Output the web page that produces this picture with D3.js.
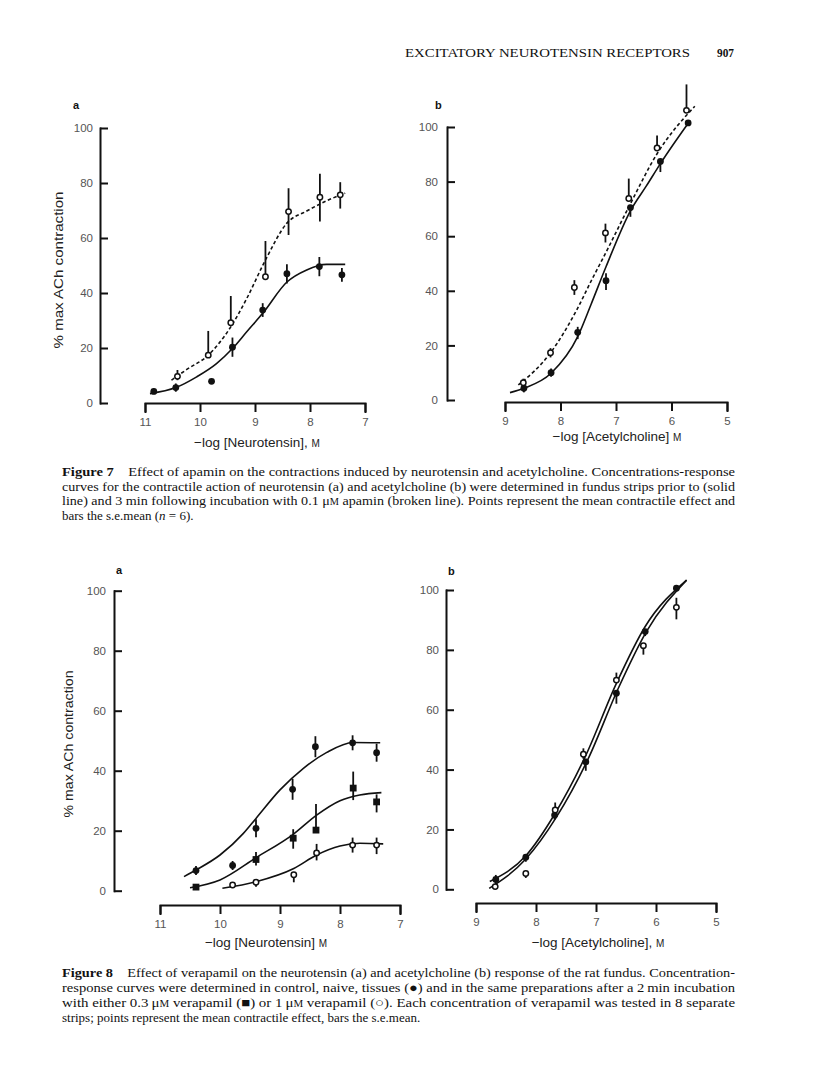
<!DOCTYPE html>
<html><head><meta charset="utf-8">
<script src="https://cdn.jsdelivr.net/npm/d3@7"></script>
<style>body{margin:0;background:#fff}svg{display:block}</style>
</head><body>
<svg id="c" width="816" height="1091"></svg>
<script>
// ================= DATA =================
const yTicks = [0, 20, 40, 60, 80, 100];
const neuroTicks = [11, 10, 9, 8, 7];
const achTicks = [9, 8, 7, 6, 5];

// ---- Figure 7a : neurotensin, control (solid, filled) vs apamin (broken, open)
const f7aCtrlX  = [10.84, 10.44, 9.79, 9.41, 8.86, 8.42, 7.83, 7.42];
const f7aCtrlY  = [4.2, 5.6, 7.9, 20.3, 33.8, 47.0, 49.6, 46.6];
const f7aCtrlUp = [1, 1.5, 0.5, 3.5, 2.5, 3.5, 3.5, 2.5];
const f7aCtrlDn = [1, 1.5, 0.5, 3.5, 2.5, 3.5, 3.5, 2.5];
const f7aApaX   = [10.41, 9.85, 9.44, 8.81, 8.39, 7.82, 7.45];
const f7aApaY   = [9.7, 17.4, 29.2, 45.9, 69.6, 74.8, 75.7];
const f7aApaUp  = [2.3, 8.8, 9.7, 13.0, 8.5, 8.6, 4.6];
const f7aApaDn  = [1.4, 0, 0, 0, 8.5, 8.8, 5.0];
const f7aCurveCtrlX = [10.91, 10.44, 10.06, 9.70, 9.41, 9.15, 8.86, 8.42, 8.06, 7.70, 7.36];
const f7aCurveCtrlY = [3.4, 5.6, 9.5, 14.3, 19.8, 25.9, 32.6, 44.0, 48.4, 50.4, 50.4];
const f7aCurveApaX  = [10.52, 10.24, 9.85, 9.44, 9.15, 8.81, 8.42, 8.06, 7.70, 7.36];
const f7aCurveApaY  = [8.3, 12.2, 17.4, 27.7, 38.0, 52.0, 65.4, 69.8, 73.5, 76.3];

// ---- Figure 7b : acetylcholine
const f7bCtrlX  = [8.66, 8.17, 7.69, 7.18, 6.74, 6.20, 5.70];
const f7bCtrlY  = [4.3, 10.0, 24.8, 43.7, 70.5, 87.4, 101.5];
const f7bCtrlUp = [1, 1.5, 2, 2.7, 1, 0, 0];
const f7bCtrlDn = [1.5, 1.5, 2.5, 3.4, 3.4, 3.9, 0];
const f7bApaX   = [8.67, 8.18, 7.75, 7.19, 6.77, 6.26, 5.73];
const f7bApaY   = [6.3, 17.3, 41.2, 61.2, 73.8, 92.3, 106.1];
const f7bApaUp  = [1.5, 1.7, 2.7, 3.4, 7.3, 4.6, 9.5];
const f7bApaDn  = [1, 1.7, 2.7, 3.5, 0, 0, 0];
const f7bCurveCtrlX = [8.91, 8.66, 8.17, 7.69, 7.45, 7.18, 6.74, 6.45, 6.20, 5.67];
const f7bCurveCtrlY = [2.7, 4.3, 9.8, 23.2, 35.0, 48.8, 69.3, 78.5, 86.6, 102.2];
const f7bCurveApaX  = [8.76, 8.18, 7.71, 7.45, 7.19, 6.77, 6.26, 5.58];
const f7bCurveApaY  = [5.5, 17.3, 32.9, 43.5, 53.7, 70.7, 90.2, 107.6];

// ---- Figure 8a : neurotensin, control (●), 0.3 µM verapamil (■), 1 µM verapamil (○)
const f8aCtrlX  = [10.40, 9.79, 9.40, 8.79, 8.41, 7.79, 7.39];
const f8aCtrlY  = [6.7, 8.4, 20.8, 33.8, 48.0, 49.3, 46.0];
const f8aCtrlUp = [1.5, 1.5, 3, 3.5, 3.5, 2.5, 3];
const f8aCtrlDn = [1.5, 1.5, 3, 3.5, 3.5, 2.5, 3];
const f8aV03X   = [10.40, 9.40, 8.78, 8.40, 7.78, 7.39];
const f8aV03Y   = [1.2, 10.4, 17.5, 20.2, 34.2, 29.6];
const f8aV03Up  = [0.8, 2.5, 3, 8.7, 5.5, 2.5];
const f8aV03Dn  = [0.8, 2, 3.5, 0, 4, 3.5];
const f8aV1X    = [9.79, 9.40, 8.77, 8.39, 7.79, 7.39];
const f8aV1Y    = [1.9, 2.8, 5.3, 12.6, 15.2, 15.2];
const f8aV1Up   = [0.8, 1, 0.5, 3, 2.5, 2.5];
const f8aV1Dn   = [0.5, 1.5, 2.5, 2.5, 2.5, 3];
const f8aCurveCtrlX = [10.60, 10.40, 10.0, 9.61, 9.40, 9.0, 8.61, 8.22, 7.78, 7.33];
const f8aCurveCtrlY = [4.7, 6.9, 11.9, 19.1, 24.1, 33.6, 40.8, 46.1, 49.4, 49.3];
const f8aCurveV03X  = [10.50, 10.0, 9.40, 8.78, 8.39, 8.0, 7.67, 7.31];
const f8aCurveV03Y  = [1.0, 3.6, 11.0, 18.8, 25.2, 30.0, 31.9, 32.7];
const f8aCurveV1X   = [9.96, 9.40, 8.77, 8.39, 8.0, 7.67, 7.28];
const f8aCurveV1Y   = [0.8, 3.0, 7.4, 11.9, 14.9, 15.8, 15.6];

// ---- Figure 8b : acetylcholine
const f8bCtrlX  = [8.67, 8.17, 7.69, 7.17, 6.66, 6.18, 5.66];
const f8bCtrlY  = [3.3, 10.7, 24.8, 42.6, 65.5, 86.1, 100.6];
const f8bCtrlUp = [1.5, 1, 1, 1, 0, 0, 0];
const f8bCtrlDn = [1.5, 1.5, 1.5, 3, 3.5, 1.5, 0];
const f8bV1X    = [8.68, 8.17, 7.68, 7.21, 6.66, 6.21, 5.66];
const f8bV1Y    = [0.9, 5.3, 26.5, 45.1, 69.9, 81.4, 94.2];
const f8bV1Up   = [0.5, 0.8, 2.5, 2, 2.5, 0, 3.2];
const f8bV1Dn   = [0.5, 1.5, 1.5, 1.5, 0, 3, 4];
const f8bCurveAX = [8.77, 8.17, 7.68, 7.18, 6.66, 6.18, 5.49];
const f8bCurveAY = [2.6, 11.2, 25.4, 44.3, 68.8, 87.8, 103.3];
const f8bCurveBX = [8.78, 8.17, 7.66, 7.14, 6.63, 6.16, 5.49];
const f8bCurveBY = [0.3, 10.1, 24.1, 43.2, 67.1, 86.1, 103.3];

// ---- texts
const headerTitle = "EXCITATORY NEUROTENSIN RECEPTORS";
const headerPage = "907";
const yLabel = "% max ACh contraction";
const cap7 = [
  [["Figure 7", "b"], ["\u2003Effect of apamin on the contractions induced by neurotensin and acetylcholine. Concentrations-response", ""]],
  [["curves for the contractile action of neurotensin (a) and acetylcholine (b) were determined in fundus strips prior to (solid", ""]],
  [["line) and 3 min following incubation with 0.1 \u03bc", ""], ["M", "sc"], [" apamin (broken line). Points represent the mean contractile effect and", ""]],
  [["bars the s.e.mean (", ""], ["n", "i"], [" = 6).", ""]]
];
const cap8 = [
  [["Figure 8", "b"], ["\u2003Effect of verapamil on the neurotensin (a) and acetylcholine (b) response of the rat fundus. Concentration-", ""]],
  [["response curves were determined in control, naive, tissues (\u25cf) and in the same preparations after a 2\u2009min incubation", ""]],
  [["with either 0.3\u2009\u03bc", ""], ["M", "sc"], [" verapamil (\u25a0) or 1\u2009\u03bc", ""], ["M", "sc"], [" verapamil (\u25cb). Each concentration of verapamil was tested in 8 separate", ""]],
  [["strips; points represent the mean contractile effect, bars the s.e.mean.", ""]]
];

// ================= DRAWING =================
const svg = d3.select("#c");
svg.append("rect").attr("width", 816).attr("height", 1091).attr("fill", "#fff");
const SANS = "'Liberation Sans', Arial, Helvetica, sans-serif";
const SERIF = "'Liberation Serif', 'Times New Roman', serif";

function zip(xs, ys) { return xs.map((v, i) => [v, ys[i]]); }

function drawPanel(p) {
  const x = d3.scaleLinear().domain(p.xDomain).range(p.xRange);
  const y = d3.scaleLinear().domain([0, 100]).range(p.yRange);
  const g = svg.append("g");

  const gx = g.append("g").attr("transform", `translate(0,${p.xAxisY})`)
    .call(d3.axisBottom(x).tickValues(p.xTicks).tickSize(9).tickSizeOuter(9).tickPadding(6).tickFormat(d3.format("d")));
  const gy = g.append("g").attr("transform", `translate(${p.yAxisX},0)`)
    .call(d3.axisLeft(y).tickValues(yTicks).tickSize(-8).tickSizeOuter(0).tickPadding(p.yPad).tickFormat(d3.format("d")));
  [gx, gy].forEach(a => {
    a.select(".domain").attr("stroke", "#111").attr("stroke-width", 2).attr("stroke-linecap", "square").attr("fill", "none");
    a.selectAll(".tick line").attr("stroke", "#111").attr("stroke-width", 2);
    a.selectAll(".tick text").attr("fill", "#555").style("font-family", SANS).style("font-size", "11.5px");
  });

  const line = d3.line().x(d => x(d[0])).y(d => y(d[1])).curve(d3.curveMonotoneX);
  p.curves.forEach(c => {
    g.append("path").attr("d", line(zip(c.xs, c.ys).sort((a, b) => x(a[0]) - x(b[0]))))
      .attr("fill", "none").attr("stroke", "#111").attr("stroke-width", 1.6)
      .attr("stroke-dasharray", c.dashed ? "3.5,2.5" : null);
  });

  p.series.forEach(s => {
    const pts = s.xs.map((v, i) => ({ x: v, y: s.ys[i], up: s.up[i], dn: s.dn[i] }));
    g.append("g").selectAll("line").data(pts).join("line")
      .attr("x1", d => x(d.x)).attr("x2", d => x(d.x))
      .attr("y1", d => y(d.y + d.up)).attr("y2", d => y(d.y - d.dn))
      .attr("stroke", "#111").attr("stroke-width", 1.8);
    const m = g.append("g");
    if (s.shape === "filled") {
      m.selectAll("circle").data(pts).join("circle")
        .attr("cx", d => x(d.x)).attr("cy", d => y(d.y)).attr("r", 3.4).attr("fill", "#111");
    } else if (s.shape === "open") {
      m.selectAll("circle").data(pts).join("circle")
        .attr("cx", d => x(d.x)).attr("cy", d => y(d.y)).attr("r", 2.7)
        .attr("fill", "#fff").attr("stroke", "#111").attr("stroke-width", 1.5);
    } else {
      m.selectAll("rect").data(pts).join("rect")
        .attr("x", d => x(d.x) - 3.4).attr("y", d => y(d.y) - 3.4).attr("width", 6.8).attr("height", 6.8).attr("fill", "#111");
    }
  });

  g.append("text").attr("x", p.letterPos[0]).attr("y", p.letterPos[1]).text(p.letter)
    .style("font-family", SANS).style("font-weight", "bold").style("font-size", "11px").attr("fill", "#111");

  const t = g.append("text").attr("x", p.xTitlePos[0]).attr("y", p.xTitlePos[1]).attr("text-anchor", "middle")
    .style("font-family", SANS).style("font-size", "13.5px").attr("fill", "#222");
  t.append("tspan").text(p.xTitle);
  t.append("tspan").text("M").style("font-size", "10px");

  if (p.yTitlePos) {
    svg.append("text").attr("transform", `translate(${p.yTitlePos[0]},${p.yTitlePos[1]}) rotate(-90)`)
      .attr("text-anchor", "middle").attr("dominant-baseline", "central")
      .style("font-family", SANS).style("font-size", "13px").attr("fill", "#222")
      .attr("textLength", p.yTitleLen).attr("lengthAdjust", "spacingAndGlyphs")
      .text(yLabel);
  }
}

const panels = [
  { xDomain: [11, 7], xRange: [145, 365], yRange: [403, 128], xAxisY: 403, yAxisX: 100, yPad: 7, xTicks: neuroTicks,
    letter: "a", letterPos: [73, 109], xTitle: "\u2212log [Neurotensin], ", xTitlePos: [257, 447],
    yTitlePos: [58, 270], yTitleLen: 157,
    curves: [{ xs: f7aCurveCtrlX, ys: f7aCurveCtrlY, dashed: false }, { xs: f7aCurveApaX, ys: f7aCurveApaY, dashed: true }],
    series: [{ xs: f7aCtrlX, ys: f7aCtrlY, up: f7aCtrlUp, dn: f7aCtrlDn, shape: "filled" },
             { xs: f7aApaX, ys: f7aApaY, up: f7aApaUp, dn: f7aApaDn, shape: "open" }] },
  { xDomain: [9, 5], xRange: [505, 727], yRange: [400, 127], xAxisY: 402, yAxisX: 447, yPad: 9, xTicks: achTicks,
    letter: "b", letterPos: [435, 109], xTitle: "\u2212log [Acetylcholine] ", xTitlePos: [617, 441],
    curves: [{ xs: f7bCurveCtrlX, ys: f7bCurveCtrlY, dashed: false }, { xs: f7bCurveApaX, ys: f7bCurveApaY, dashed: true }],
    series: [{ xs: f7bCtrlX, ys: f7bCtrlY, up: f7bCtrlUp, dn: f7bCtrlDn, shape: "filled" },
             { xs: f7bApaX, ys: f7bApaY, up: f7bApaUp, dn: f7bApaDn, shape: "open" }] },
  { xDomain: [11, 7], xRange: [160, 400], yRange: [890.7, 590.7], xAxisY: 905, yAxisX: 114, yPad: 8, xTicks: neuroTicks,
    letter: "a", letterPos: [116, 574], xTitle: "\u2212log [Neurotensin] ", xTitlePos: [266, 947],
    yTitlePos: [68, 744], yTitleLen: 147,
    curves: [{ xs: f8aCurveCtrlX, ys: f8aCurveCtrlY }, { xs: f8aCurveV03X, ys: f8aCurveV03Y }, { xs: f8aCurveV1X, ys: f8aCurveV1Y }],
    series: [{ xs: f8aCtrlX, ys: f8aCtrlY, up: f8aCtrlUp, dn: f8aCtrlDn, shape: "filled" },
             { xs: f8aV03X, ys: f8aV03Y, up: f8aV03Up, dn: f8aV03Dn, shape: "square" },
             { xs: f8aV1X, ys: f8aV1Y, up: f8aV1Up, dn: f8aV1Dn, shape: "open" }] },
  { xDomain: [9, 5], xRange: [476, 716], yRange: [889.3, 590], xAxisY: 903, yAxisX: 446, yPad: 7, xTicks: achTicks,
    letter: "b", letterPos: [448, 575], xTitle: "\u2212log [Acetylcholine], ", xTitlePos: [598, 947],
    curves: [{ xs: f8bCurveAX, ys: f8bCurveAY }, { xs: f8bCurveBX, ys: f8bCurveBY }],
    series: [{ xs: f8bCtrlX, ys: f8bCtrlY, up: f8bCtrlUp, dn: f8bCtrlDn, shape: "filled" },
             { xs: f8bV1X, ys: f8bV1Y, up: f8bV1Up, dn: f8bV1Dn, shape: "open" }] }
];
panels.forEach(drawPanel);

// header
svg.append("text").attr("x", 405).attr("y", 57).text(headerTitle)
  .style("font-family", SERIF).style("font-size", "12.5px").attr("fill", "#111")
  .attr("textLength", 285).attr("lengthAdjust", "spacingAndGlyphs");
svg.append("text").attr("x", 717).attr("y", 57).text(headerPage)
  .style("font-family", SERIF).style("font-size", "12.5px").style("font-weight", "bold").attr("fill", "#111")
  .attr("textLength", 17).attr("lengthAdjust", "spacingAndGlyphs");

// captions
function caption(lines, baselines) {
  const left = 62, right = 735;
  lines.forEach((segs, li) => {
    const t = svg.append("text").attr("x", left).attr("y", baselines[li])
      .style("font-family", SERIF).style("font-size", "13px").attr("fill", "#111");
    segs.forEach(([txt, st]) => {
      const ts = t.append("tspan").text(txt);
      if (st === "b") ts.style("font-weight", "bold");
      if (st === "i") ts.style("font-style", "italic");
      if (st === "sc") ts.style("font-size", "9.5px");
    });
    if (li < lines.length - 1) {
      t.attr("textLength", right - left).attr("lengthAdjust", "spacingAndGlyphs");
    }
  });
}
caption(cap7, [476, 490.5, 505, 519.5]);
caption(cap8, [977, 992, 1007, 1022]);
</script>
</body></html>
